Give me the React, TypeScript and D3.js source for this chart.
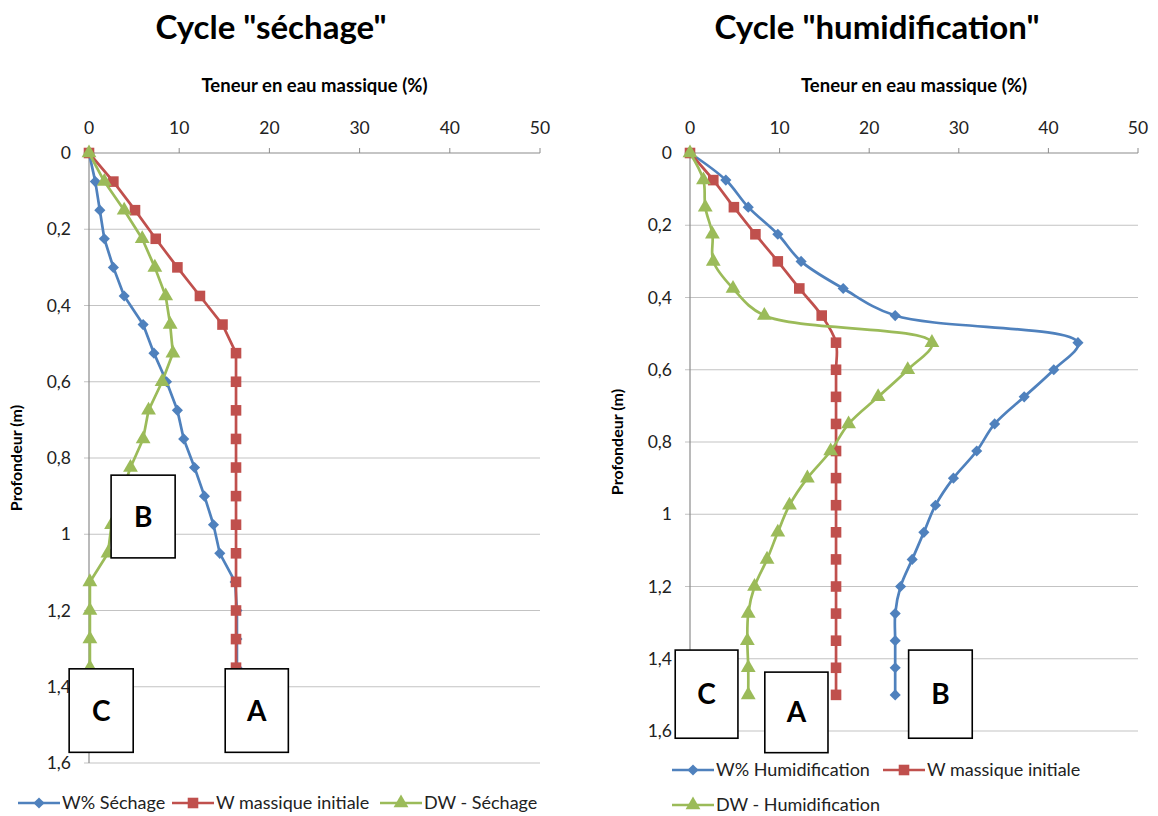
import React, { useEffect, useRef } from "react";
import * as d3 from "d3";

// depth (m) of each measurement
const depthSechage = [0, 0.075, 0.15, 0.225, 0.3, 0.375, 0.45, 0.525, 0.6, 0.675, 0.75, 0.825, 0.9, 0.975, 1.05, 1.125, 1.2, 1.275, 1.35];
const depthHumid = [0, 0.075, 0.15, 0.225, 0.3, 0.375, 0.45, 0.525, 0.6, 0.675, 0.75, 0.825, 0.9, 0.975, 1.05, 1.125, 1.2, 1.275, 1.35, 1.425, 1.5];

// teneur en eau (%) - cycle séchage
const wSechage = [0, 0.7, 1.2, 1.7, 2.7, 3.9, 6.0, 7.2, 8.6, 9.8, 10.5, 11.7, 12.8, 13.8, 14.5, 16.2, 16.4, 16.4, 16.4];
const wInitialSechage = [0, 2.7, 5.1, 7.4, 9.8, 12.3, 14.8, 16.3, 16.3, 16.3, 16.3, 16.3, 16.3, 16.3, 16.3, 16.3, 16.3, 16.3, 16.3];
const dwSechage = [0, 1.7, 3.9, 5.9, 7.3, 8.5, 9.0, 9.3, 8.1, 6.6, 6.0, 4.6, 3.5, 2.5, 2.1, 0.1, 0.1, 0.1, 0.1];

// teneur en eau (%) - cycle humidification
const wHumid = [0, 4.0, 6.5, 9.8, 12.4, 17.1, 22.9, 43.3, 40.6, 37.3, 34.0, 32.0, 29.4, 27.4, 26.1, 24.8, 23.5, 22.9, 22.9, 22.9, 22.9];
const wInitialHumid = [0, 2.6, 4.9, 7.3, 9.8, 12.2, 14.7, 16.3, 16.3, 16.3, 16.3, 16.3, 16.3, 16.3, 16.3, 16.3, 16.3, 16.3, 16.3, 16.3, 16.3];
const dwHumid = [0, 1.5, 1.7, 2.5, 2.6, 4.8, 8.3, 27.0, 24.3, 21.0, 17.7, 15.7, 13.1, 11.1, 9.8, 8.6, 7.2, 6.5, 6.4, 6.5, 6.5];

const xTicks = [0, 10, 20, 30, 40, 50];
const yTicks = [0, 0.2, 0.4, 0.6, 0.8, 1, 1.2, 1.4, 1.6];

// annotation boxes: [label, x from, x to, depth from, depth to]
const notesSechage: [string, number, number, number, number][] = [
    ["B", 2.45, 9.55, 0.845, 1.062],
    ["C", -2.2, 4.9, 1.353, 1.572],
    ["A", 15.1, 22.1, 1.353, 1.572],
];
const notesHumid: [string, number, number, number, number][] = [
    ["C", -1.65, 5.35, 1.376, 1.62],
    ["A", 8.35, 15.4, 1.437, 1.66],
    ["B", 24.4, 31.5, 1.376, 1.62],
];

const BLUE = "#4F81BD";
const RED = "#C0504D";
const GREEN = "#9BBB59";
const FONT = "Lato, 'Open Sans', sans-serif";

type Marker = "diamond" | "square" | "triangle";
interface Serie { name: string; values: number[]; color: string; marker: Marker }

interface ChartCfg {
    title: string;
    titleX: number;
    left: number;
    right: number;
    top: number;
    bottom: number;
    depths: number[];
    series: Serie[];
    smooth: boolean;
    notes: [string, number, number, number, number][];
    legend: { x: number; y: number }[];
}

const markerPath = (m: Marker) => {
    if (m === "diamond") return d3.symbol(d3.symbolSquare, 62)()!;
    if (m === "square") return d3.symbol(d3.symbolSquare, 112)()!;
    return d3.symbol(d3.symbolTriangle, 95)()!;
};

function drawChart(root: d3.Selection<SVGGElement, unknown, null, undefined>, cfg: ChartCfg) {
    const { left, right, top, bottom } = cfg;
    const x = d3.scaleLinear().domain([0, 50]).range([left, right]);
    const y = d3.scaleLinear().domain([0, 1.6]).range([top, bottom]);
    const fmt = (v: number) => String(+v.toFixed(1)).replace(".", ",");

    const g = root.append("g");

    g.append("text")
        .attr("x", cfg.titleX)
        .attr("y", 39)
        .attr("text-anchor", "middle")
        .attr("font-size", 33)
        .attr("font-weight", "bold")
        .text(cfg.title);

    g.append("text")
        .attr("x", (left + right) / 2)
        .attr("y", 92)
        .attr("text-anchor", "middle")
        .attr("font-size", 18.5)
        .attr("font-weight", "bold")
        .text("Teneur en eau massique (%)");

    g.append("text")
        .attr("transform", `translate(${left - 67},${(top + bottom) / 2}) rotate(-90)`)
        .attr("text-anchor", "middle")
        .attr("font-size", 16)
        .attr("font-weight", "bold")
        .text("Profondeur (m)");

    // horizontal gridlines + y ticks
    g.append("g")
        .selectAll("line")
        .data(yTicks)
        .join("line")
        .attr("x1", left - 5)
        .attr("x2", right)
        .attr("y1", (d) => y(d))
        .attr("y2", (d) => y(d))
        .attr("stroke", (d) => (d === 0 ? "#8c8c8c" : "#c3c3c3"))
        .attr("stroke-width", 1.2);

    g.append("g")
        .selectAll("text")
        .data(yTicks)
        .join("text")
        .attr("x", left - 18)
        .attr("y", (d) => y(d))
        .attr("dy", "0.35em")
        .attr("text-anchor", "end")
        .attr("font-size", 17.5)
        .attr("fill", "#222")
        .text(fmt);

    // x ticks along the top
    g.append("g")
        .selectAll("line")
        .data(xTicks)
        .join("line")
        .attr("x1", (d) => x(d))
        .attr("x2", (d) => x(d))
        .attr("y1", top - 5)
        .attr("y2", top)
        .attr("stroke", "#8c8c8c");

    g.append("g")
        .selectAll("text")
        .data(xTicks)
        .join("text")
        .attr("x", (d) => x(d))
        .attr("y", top - 25)
        .attr("dy", "0.35em")
        .attr("text-anchor", "middle")
        .attr("font-size", 17.5)
        .attr("fill", "#222")
        .text((d) => String(d));

    g.append("line")
        .attr("x1", left)
        .attr("x2", left)
        .attr("y1", top)
        .attr("y2", bottom)
        .attr("stroke", "#8c8c8c")
        .attr("stroke-width", 1.2);

    const line = d3.line<number>()
        .x((d) => x(d))
        .y((_, i) => y(cfg.depths[i]))
        .curve(cfg.smooth ? d3.curveCatmullRom.alpha(0.5) : d3.curveLinear);

    cfg.series.forEach((s) => {
        const sg = g.append("g");
        sg.append("path")
            .attr("d", line(s.values))
            .attr("fill", "none")
            .attr("stroke", s.color)
            .attr("stroke-width", 2.7)
            .attr("stroke-linejoin", "round");
        sg.selectAll("path.m")
            .data(s.values)
            .join("path")
            .attr("class", "m")
            .attr("d", markerPath(s.marker))
            .attr("transform", (d, i) =>
                `translate(${x(d)},${y(cfg.depths[i])})${s.marker === "diamond" ? " rotate(45)" : ""}`)
            .attr("fill", s.color);
    });

    // annotation boxes
    const ng = g.append("g")
        .selectAll("g")
        .data(cfg.notes)
        .join("g");
    ng.append("rect")
        .attr("x", (d) => x(d[1]))
        .attr("y", (d) => y(d[3]))
        .attr("width", (d) => x(d[2]) - x(d[1]))
        .attr("height", (d) => y(d[4]) - y(d[3]))
        .attr("fill", "white")
        .attr("stroke", "black")
        .attr("stroke-width", 1.6);
    ng.append("text")
        .attr("x", (d) => (x(d[1]) + x(d[2])) / 2)
        .attr("y", (d) => (y(d[3]) + y(d[4])) / 2)
        .attr("dy", "0.36em")
        .attr("text-anchor", "middle")
        .attr("font-size", 28)
        .attr("font-weight", "bold")
        .text((d) => d[0]);

    // legend
    cfg.series.forEach((s, i) => {
        const p = cfg.legend[i];
        const lg = g.append("g").attr("transform", `translate(${p.x},${p.y})`);
        lg.append("line")
            .attr("x1", 0)
            .attr("x2", 42)
            .attr("stroke", s.color)
            .attr("stroke-width", 2.7);
        lg.append("path")
            .attr("d", markerPath(s.marker))
            .attr("transform", `translate(21,0)${s.marker === "diamond" ? " rotate(45)" : ""}`)
            .attr("fill", s.color);
        lg.append("text")
            .attr("x", 44)
            .attr("dy", "0.35em")
            .attr("font-size", 18)
            .attr("fill", "#222")
            .text(s.name);
    });
}

export default function App() {
    const ref = useRef<SVGSVGElement>(null);

    useEffect(() => {
        if (!ref.current) return;
        const svg = d3.select(ref.current);
        svg.selectAll("*").remove();
        const root = svg.append("g").attr("font-family", FONT);

        drawChart(root, {
            title: 'Cycle "séchage"',
            titleX: 271,
            left: 89,
            right: 540,
            top: 153,
            bottom: 763,
            depths: depthSechage,
            smooth: false,
            series: [
                { name: "W% Séchage", values: wSechage, color: BLUE, marker: "diamond" },
                { name: "W massique initiale", values: wInitialSechage, color: RED, marker: "square" },
                { name: "DW - Séchage", values: dwSechage, color: GREEN, marker: "triangle" },
            ],
            notes: notesSechage,
            legend: [{ x: 18, y: 803 }, { x: 172, y: 803 }, { x: 380, y: 803 }],
        });

        drawChart(root, {
            title: 'Cycle "humidification"',
            titleX: 877,
            left: 690,
            right: 1138,
            top: 153,
            bottom: 731,
            depths: depthHumid,
            smooth: true,
            series: [
                { name: "W% Humidification", values: wHumid, color: BLUE, marker: "diamond" },
                { name: "W massique initiale", values: wInitialHumid, color: RED, marker: "square" },
                { name: "DW - Humidification", values: dwHumid, color: GREEN, marker: "triangle" },
            ],
            notes: notesHumid,
            legend: [{ x: 672, y: 770 }, { x: 883, y: 770 }, { x: 672, y: 805 }],
        });
    }, []);

    return (
        <svg
            ref={ref}
            width={1158}
            height={816}
            style={{ position: "absolute", left: 0, top: 0, background: "white" }}
        />
    );
}
